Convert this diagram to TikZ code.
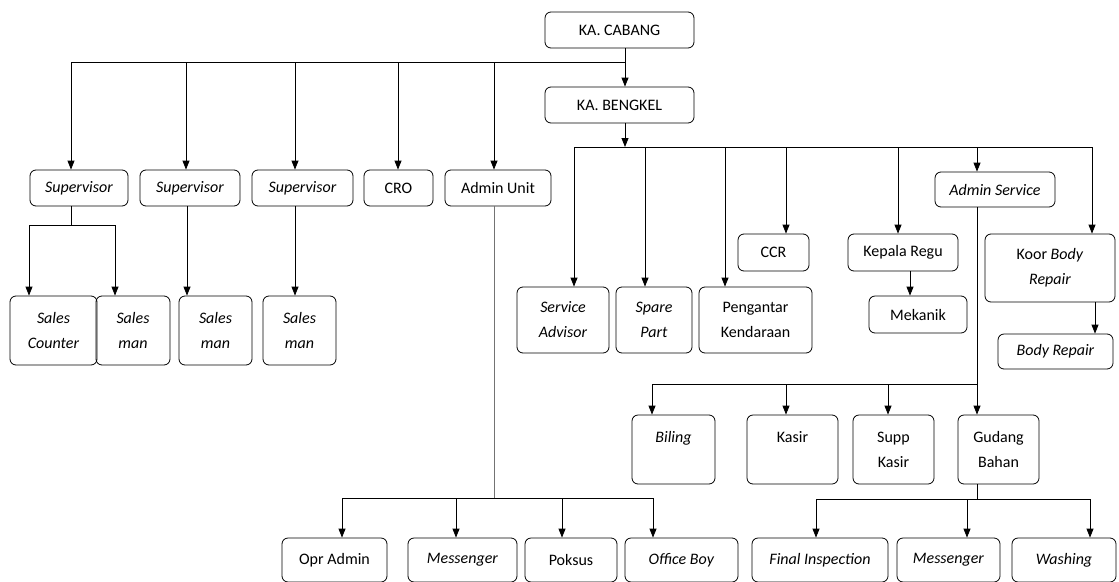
\documentclass[tikz,border=0pt]{standalone}
\usepackage{fontspec}
\setmainfont{Carlito}
\usetikzlibrary{arrows.meta}
\begin{document}
\begin{tikzpicture}[x=1pt,y=-1pt,
  box/.style={draw, rounded corners=6pt, align=center, inner sep=0pt,
    font=\fontsize{16}{25}\selectfont, line width=0.8pt},
  arr/.style={-{Triangle[length=9pt,width=7pt]}, line width=0.8pt},
  ln/.style={line width=0.8pt}]
\clip (0,0) rectangle (1119,581);
\newcommand\bx[6]{\node[box,minimum width=#4,minimum height=#5] (#1) at (#2,#3) {#6};}
% level 0/1
\bx{cabang}{619.5}{30}{149}{36}{KA. CABANG}
\bx{bengkel}{619.5}{105}{149}{36}{KA. BENGKEL}
% row 1 left
\bx{sup1}{79}{188}{98}{36}{\textit{Supervisor}}
\bx{sup2}{190}{188}{100}{36}{\textit{Supervisor}}
\bx{sup3}{302.5}{188}{101}{36}{\textit{Supervisor}}
\bx{cro}{398.5}{188}{69}{36}{CRO}
\bx{adminunit}{498}{188}{106}{36}{Admin Unit}
% sales
\bx{salescounter}{53.5}{330.5}{87}{69}{\textit{Sales}\\\textit{Counter}}
\bx{salesman1}{133}{330.5}{74}{69}{\textit{Sales}\\\textit{man}}
\bx{salesman2}{215.5}{330.5}{73}{69}{\textit{Sales}\\\textit{man}}
\bx{salesman3}{299.5}{330.5}{73}{69}{\textit{Sales}\\\textit{man}}
% bengkel children
\bx{servadv}{563}{320}{92}{66}{\textit{Service}\\\textit{Advisor}}
\bx{spare}{654}{320}{76}{66}{\textit{Spare}\\\textit{Part}}
\bx{pengantar}{755.5}{320}{113}{66}{Pengantar\\Kendaraan}
\bx{ccr}{773.5}{252.5}{71}{37}{CCR}
\bx{kepala}{903}{252.5}{110}{37}{Kepala Regu}
\bx{mekanik}{918}{314.5}{98}{37}{Mekanik}
\bx{adminserv}{995}{189.5}{120}{35}{\textit{Admin Service}}
\bx{koor}{1050}{268}{130}{68}{Koor \textit{Body}\\\textit{Repair}}
\bx{bodyrepair}{1055.5}{351.5}{115}{35}{\textit{Body Repair}}
% admin service children
\bx{biling}{673.5}{449.5}{83}{69}{\textit{Biling}\\~}
\bx{kasir}{792.5}{449.5}{91}{69}{Kasir\\~}
\bx{suppkasir}{893.5}{449.5}{81}{69}{Supp\\Kasir}
\bx{gudang}{998.5}{449.5}{81}{69}{Gudang\\Bahan}
% bottom row
\bx{opradmin}{334.5}{560}{105}{44}{Opr Admin}
\bx{messenger1}{462.5}{560}{109}{44}{\textit{Messenger}}
\bx{poksus}{571}{560}{92}{44}{Poksus}
\bx{officeboy}{681.5}{560}{113}{44}{\textit{Office Boy}}
\bx{finalinsp}{820}{560}{136}{44}{\textit{Final Inspection}}
\bx{messenger2}{948.5}{560}{103}{44}{\textit{Messenger}}
\bx{washing}{1064}{560}{104}{44}{\textit{Washing}}
% KA CABANG bus
\coordinate (t1) at (625,62);
\draw[ln] (cabang.south -| t1) -- (t1);
\draw[arr] (t1) -- (bengkel.north -| t1);
\draw[ln] (t1) -- (t1 -| 71,0);
\draw[arr] (t1 -| 71,0) -- (sup1.north -| 71,0);
\draw[arr] (t1 -| 186,0) -- (sup2.north -| 186,0);
\draw[arr] (t1 -| 295,0) -- (sup3.north -| 295,0);
\draw[arr] (t1 -| 398,0) -- (cro.north -| 398,0);
\draw[arr] (t1 -| 494,0) -- (adminunit.north -| 494,0);
% supervisors to sales
\coordinate (s1) at (71,225);
\draw[ln] (sup1.south -| s1) -- (s1);
\draw[ln] (s1 -| 29,0) -- (s1 -| 115,0);
\draw[arr] (s1 -| 29,0) -- (salescounter.north -| 29,0);
\draw[arr] (s1 -| 115,0) -- (salesman1.north -| 115,0);
\draw[arr] (sup2.south -| 187,0) -- (salesman2.north -| 187,0);
\draw[arr] (sup3.south -| 295,0) -- (salesman3.north -| 295,0);
% admin unit
\coordinate (a1) at (494,498);
\draw[ln, black!55] (adminunit.south -| a1) -- (a1);
\draw[ln] (a1 -| 342,0) -- (a1 -| 653,0);
\draw[arr] (a1 -| 342,0) -- (opradmin.north -| 342,0);
\draw[arr] (a1 -| 456,0) -- (messenger1.north -| 456,0);
\draw[arr] (a1 -| 562,0) -- (poksus.north -| 562,0);
\draw[arr] (a1 -| 653,0) -- (officeboy.north -| 653,0);
% KA BENGKEL bus
\coordinate (b1) at (625,147);
\draw[arr] (bengkel.south -| b1) -- (b1);
\draw[ln] (b1 -| 574,0) -- (b1 -| 1092,0);
\draw[arr] (b1 -| 574,0) -- (servadv.north -| 574,0);
\draw[arr] (b1 -| 645,0) -- (spare.north -| 645,0);
\draw[arr] (b1 -| 725,0) -- (pengantar.north -| 725,0);
\draw[arr] (b1 -| 786,0) -- (ccr.north -| 786,0);
\draw[arr] (b1 -| 898,0) -- (kepala.north -| 898,0);
\draw[arr] (b1 -| 977,0) -- (adminserv.north -| 977,0);
\draw[arr] (b1 -| 1092,0) -- (koor.north -| 1092,0);
\draw[arr] (kepala.south -| 910,0) -- (mekanik.north -| 910,0);
\draw[arr] (koor.south -| 1095,0) -- (bodyrepair.north -| 1095,0);
% admin service
\coordinate (c1) at (977,384);
\draw[arr] (adminserv.south -| c1) -- (gudang.north -| c1);
\draw[ln] (c1) -- (c1 -| 652,0);
\draw[arr] (c1 -| 652,0) -- (biling.north -| 652,0);
\draw[arr] (c1 -| 786,0) -- (kasir.north -| 786,0);
\draw[arr] (c1 -| 888,0) -- (suppkasir.north -| 888,0);
% gudang
\coordinate (g1) at (977,499);
\draw[ln] (gudang.south -| g1) -- (g1);
\draw[ln] (g1 -| 816,0) -- (g1 -| 1090,0);
\draw[arr] (g1 -| 816,0) -- (finalinsp.north -| 816,0);
\draw[arr] (g1 -| 967,0) -- (messenger2.north -| 967,0);
\draw[arr] (g1 -| 1090,0) -- (washing.north -| 1090,0);
\end{tikzpicture}
\end{document}
